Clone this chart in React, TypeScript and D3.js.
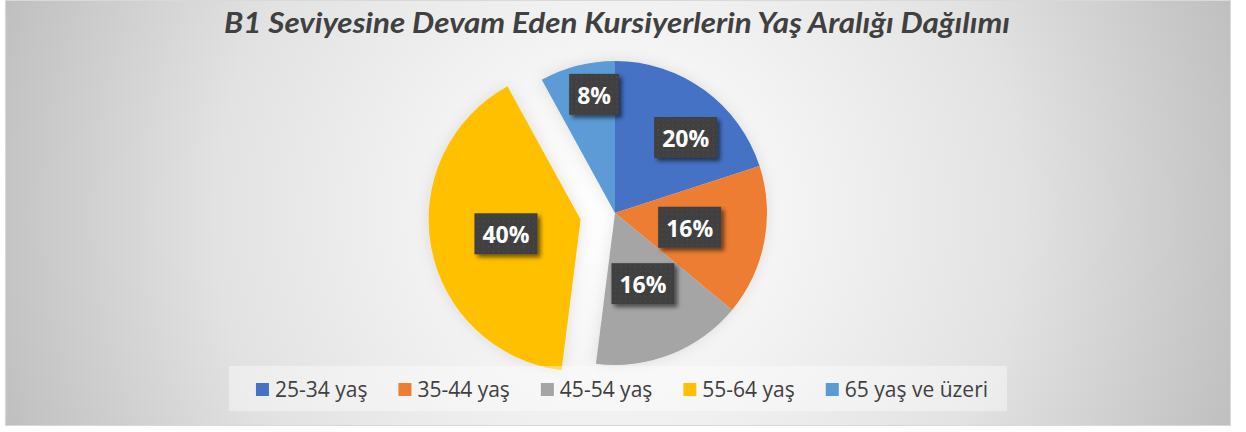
import React, { useEffect, useRef } from "react";
import * as d3 from "d3";

const title = "B1 Seviyesine Devam Eden Kursiyerlerin Yaş Aralığı Dağılımı";
const categories = ["25-34 yaş", "35-44 yaş", "45-54 yaş", "55-64 yaş", "65 yaş ve üzeri"];
const values = [20, 16, 16, 40, 8];
const colors = ["#4472C4", "#ED7D31", "#A5A5A5", "#FFC000", "#5B9BD5"];

// layout
const W = 1246, H = 432;
const box = { x: 5, y: 0, w: 1226, h: 426 };
const cx = 615, cy = 213, R = 152;
const explode = [0, 0, 0, 35, 0];
const labelNudge: [number, number][] = [[26, -14], [0, 0], [0, 0], [0, 0], [-2, -45]];
const FONT = "Lato, 'Open Sans', sans-serif";
const FONT2 = "'Open Sans', sans-serif";

export default function App() {
  const ref = useRef<SVGSVGElement>(null);
  useEffect(() => {
    const svg = d3.select(ref.current);
    svg.selectAll("*").remove();
    const defs = svg.append("defs");
    const rg = defs.append("radialGradient").attr("id", "bg").attr("gradientUnits", "userSpaceOnUse")
      .attr("cx", 618).attr("cy", 213).attr("r", 650);
    [[0, "#ffffff"], [0.22, "#f6f6f6"], [0.62, "#e2e2e2"], [1, "#bfbfbf"]].forEach(([o, c]) =>
      rg.append("stop").attr("offset", o as number).attr("stop-color", c as string));
    const pat = defs.append("pattern").attr("id", "dots").attr("width", 5).attr("height", 5).attr("patternUnits", "userSpaceOnUse");
    pat.append("rect").attr("width", 5).attr("height", 5).attr("fill", "#404040");
    pat.append("circle").attr("cx", 2.5).attr("cy", 2.5).attr("r", 0.8).attr("fill", "#4e4e4e");
    const sh = defs.append("filter").attr("id", "lshadow").attr("x", "-30%").attr("y", "-30%").attr("width", "160%").attr("height", "160%");
    sh.append("feDropShadow").attr("dx", 3).attr("dy", 3).attr("stdDeviation", 2).attr("flood-color", "#000").attr("flood-opacity", 0.55);
    const ps = defs.append("filter").attr("id", "pshadow").attr("x", "-20%").attr("y", "-20%").attr("width", "140%").attr("height", "140%");
    ps.append("feDropShadow").attr("dx", 0).attr("dy", 0).attr("stdDeviation", 7).attr("flood-color", "#000").attr("flood-opacity", 0.1);

    svg.append("rect").attr("x", box.x + 0.5).attr("y", box.y + 0.5).attr("width", box.w - 1).attr("height", box.h - 1)
      .attr("fill", "url(#bg)").attr("stroke", "#d9d9d9").attr("stroke-width", 1);

    const t = svg.append("text").attr("x", 617).attr("y", 33).attr("text-anchor", "middle")
      .attr("font-family", FONT).attr("font-weight", 700).attr("font-style", "italic").attr("font-size", 28)
      .attr("fill", "#404040").text(title);
    t.attr("textLength", 786).attr("lengthAdjust", "spacingAndGlyphs");

    const pie = d3.pie<number>().sort(null).startAngle(0).endAngle(2 * Math.PI);
    const arcs = pie(values);
    const arc = d3.arc<d3.PieArcDatum<number>>().innerRadius(0).outerRadius(R);
    const labelArc = d3.arc<d3.PieArcDatum<number>>().innerRadius(R / 2).outerRadius(R / 2);
    const g = svg.append("g").attr("transform", `translate(${cx},${cy})`).attr("filter", "url(#pshadow)");
    const off = (d: d3.PieArcDatum<number>, i: number) => {
      const m = (d.startAngle + d.endAngle) / 2;
      return [Math.sin(m) * explode[i], -Math.cos(m) * explode[i]];
    };
    g.selectAll("path").data(arcs).join("path")
      .attr("d", arc as any)
      .attr("fill", (_, i) => colors[i])
      .attr("transform", (d, i) => { const [dx, dy] = off(d, i); return `translate(${dx},${dy})`; });

    const lg = svg.append("g").attr("transform", `translate(${cx},${cy})`);
    arcs.forEach((d, i) => {
      const [ox, oy] = off(d, i);
      const [x0, y0] = labelArc.centroid(d);
      const x = x0 + ox + labelNudge[i][0], y = y0 + oy + labelNudge[i][1];
      const gg = lg.append("g").attr("transform", `translate(${x},${y})`);
      const r = gg.append("rect").attr("fill", "url(#dots)").attr("filter", "url(#lshadow)");
      const tx = gg.append("text").attr("text-anchor", "middle").attr("y", 9.5)
        .attr("font-family", FONT2).attr("font-weight", 700).attr("font-size", 23).attr("fill", "#ffffff")
        .text(`${d3.format(".0f")(values[i])}%`);
      const w = (tx.node() as SVGTextElement).getComputedTextLength() + 16;
      r.attr("x", -w / 2).attr("y", -20.5).attr("width", w).attr("height", 41);
    });

    // legend
    const leg = { x: 229, y: 366, w: 778, h: 45 };
    svg.append("rect").attr("x", leg.x).attr("y", leg.y).attr("width", leg.w).attr("height", leg.h)
      .attr("fill", "#ffffff").attr("fill-opacity", 0.4);
    const items = svg.append("g");
    let xpos = 0;
    categories.forEach((c, i) => {
      const it = items.append("g").attr("transform", `translate(${xpos},0)`);
      it.append("rect").attr("x", 0).attr("y", 383).attr("width", 13).attr("height", 13).attr("fill", colors[i]);
      const tt = it.append("text").attr("x", 19).attr("y", 397).attr("font-family", FONT2).attr("font-size", 21)
        .attr("fill", "#404040").text(c);
      const tw = (tt.node() as SVGTextElement).getComputedTextLength();
      xpos += 19 + tw + 31;
    });
    const total = xpos - 31;
    items.attr("transform", `translate(${622 - total / 2},0)`);
  }, []);
  return (
    <svg ref={ref} width={W} height={H} style={{ position: "absolute", left: 0, top: 0 }} />
  );
}
